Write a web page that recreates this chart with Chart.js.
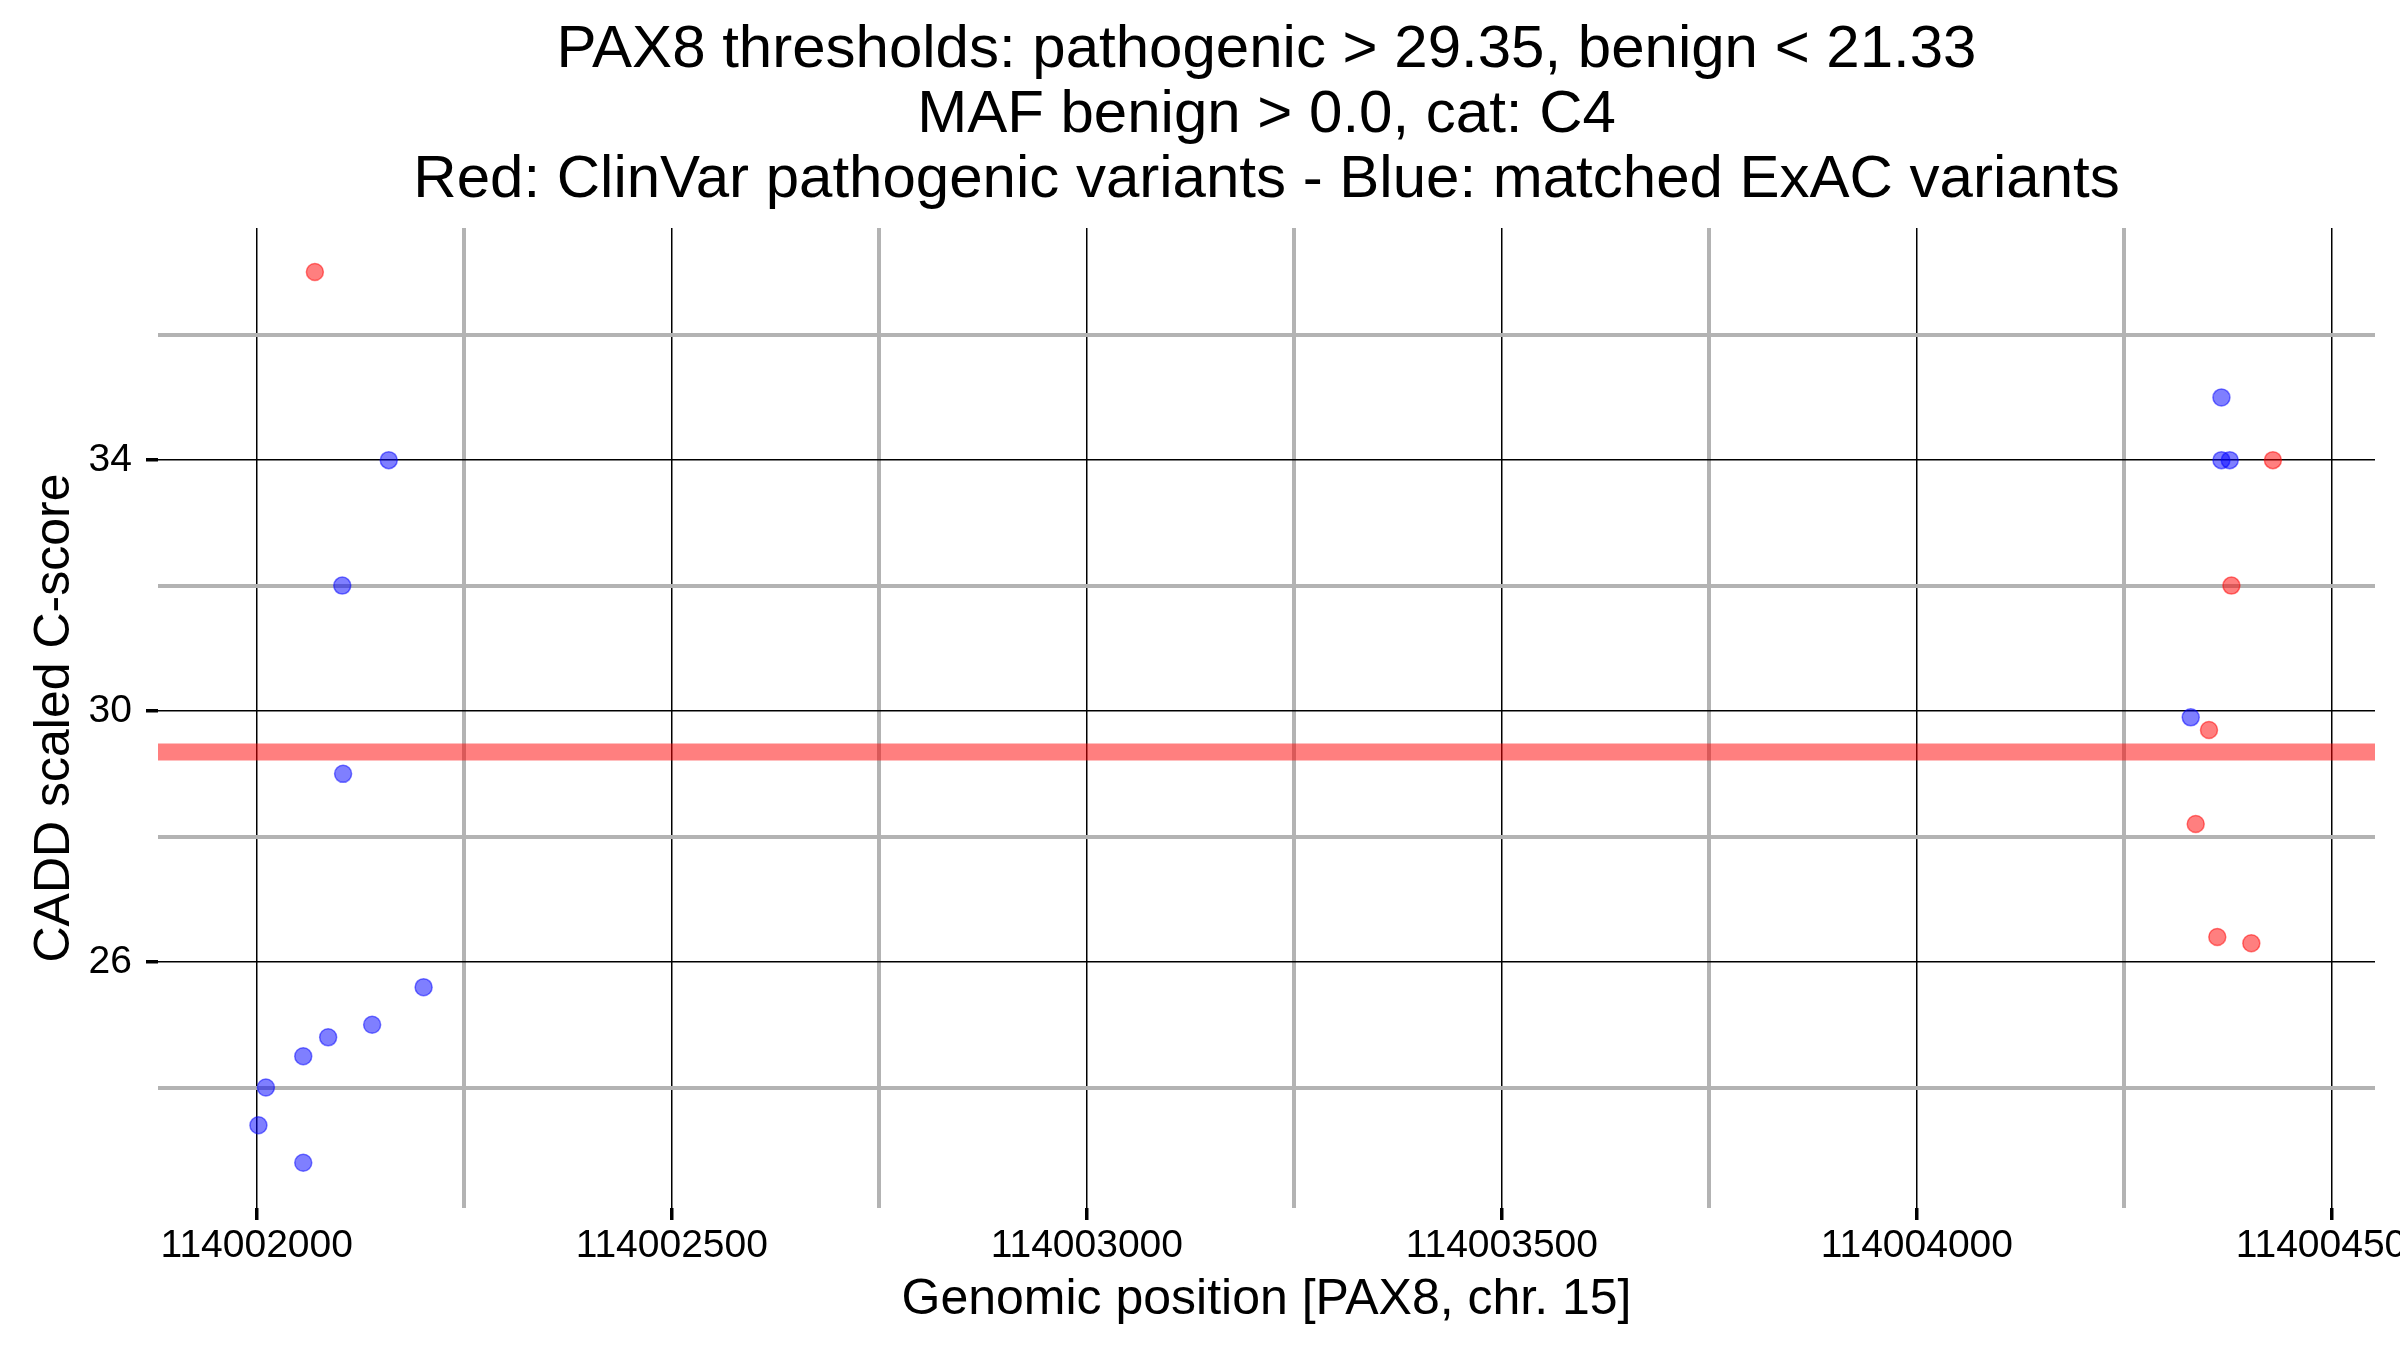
<!DOCTYPE html>
<html>
<head>
<meta charset="utf-8">
<script src="https://cdn.jsdelivr.net/npm/chart.js@4.4.1/dist/chart.umd.min.js"></script>
<style>
  html, body { margin: 0; padding: 0; overflow: hidden; background: #fff; }
  #wrap { position: absolute; left: 0; top: 0; width: 2440px; height: 1350px; }
</style>
</head>
<body>
<div id="wrap"><canvas id="chart"></canvas></div>
<script>
/**********************************
  DATA
**********************************/
// ClinVar pathogenic variants (red)
const clinvarPos   = [114002070, 114004429, 114004379, 114004352, 114004336, 114004362, 114004403];
const clinvarScore = [37.0,      34.0,      32.0,      29.7,      28.2,      26.4,      26.3];

// matched ExAC variants (blue)
const exacPos   = [114002159, 114002103, 114002104, 114002201, 114002139, 114002086, 114002056,
                   114002011, 114002002, 114002056, 114004367, 114004367, 114004377, 114004330];
const exacScore = [34.0, 32.0, 29.0, 25.6, 25.0, 24.8, 24.5,
                   24.0, 23.4, 22.8, 35.0, 34.0, 34.0, 29.9];

const pathogenicThreshold = 29.35;

// axis ranges and ticks
const xMin = 114001881, xMax = 114004552;
const yMin = 22.08,     yMax = 37.7;
const xTickValues = [114002000, 114002250, 114002500, 114002750, 114003000,
                     114003250, 114003500, 114003750, 114004000, 114004250, 114004500];
const xTickLabels = ['114002000', '114002500', '114003000', '114003500', '114004000', '114004500'];
const yTickValues = [24, 26, 28, 30, 32, 34, 36];
const yTickLabels = ['26', '30', '34'];

const titleLines = [
  'PAX8 thresholds: pathogenic > 29.35, benign < 21.33',
  'MAF benign > 0.0, cat: C4',
  'Red: ClinVar pathogenic variants - Blue: matched ExAC variants'
];

/**********************************
  HELPERS
**********************************/
const FONT = '"Liberation Sans", Arial, Helvetica, sans-serif';
const MINOR_GREY = '#b3b3b3';

function toPoints(xs, ys) {
  return xs.map((x, i) => ({ x: x, y: ys[i] }));
}
function isMajorLabel(labels, v) {
  return labels.indexOf(String(v)) !== -1;
}
function gridFor(labels) {
  return {
    color: ctx => isMajorLabel(labels, ctx.tick.value) ? '#000000' : MINOR_GREY,
    lineWidth: ctx => isMajorLabel(labels, ctx.tick.value) ? 1.5 : 4,
    tickColor: ctx => isMajorLabel(labels, ctx.tick.value) ? '#000000' : 'rgba(0,0,0,0)',
    tickWidth: 3.5,
    tickLength: 12,
    drawTicks: true
  };
}

// title centred over the plot panel (ggplot style), not over the whole canvas
const panelTitle = {
  id: 'panelTitle',
  afterDraw(chart) {
    const { ctx, chartArea } = chart;
    const cx = (chartArea.left + chartArea.right) / 2;
    ctx.save();
    ctx.fillStyle = '#000';
    ctx.font = '60px ' + FONT;
    ctx.textAlign = 'center';
    ctx.textBaseline = 'alphabetic';
    titleLines.forEach((line, i) => {
      ctx.fillText(line, cx, chartArea.top - 161 + i * 65);
    });
    ctx.restore();
  }
};

/**********************************
  CHART
**********************************/
const ctx = document.getElementById('chart').getContext('2d');
new Chart(ctx, {
  type: 'scatter',
  data: {
    datasets: [
      {
        label: 'threshold',
        type: 'line',
        data: [{ x: xMin, y: pathogenicThreshold }, { x: xMax, y: pathogenicThreshold }],
        borderColor: 'rgba(255,0,0,0.5)',
        borderWidth: 17,
        pointRadius: 0,
        order: 3
      },
      {
        label: 'ExAC',
        data: toPoints(exacPos, exacScore),
        backgroundColor: 'rgba(0,0,255,0.5)',
        borderColor: 'rgba(0,0,255,0.5)',
        borderWidth: 1.5,
        pointRadius: 8.5,
        order: 2
      },
      {
        label: 'ClinVar',
        data: toPoints(clinvarPos, clinvarScore),
        backgroundColor: 'rgba(255,0,0,0.5)',
        borderColor: 'rgba(255,0,0,0.5)',
        borderWidth: 1.5,
        pointRadius: 8.5,
        order: 1
      }
    ]
  },
  options: {
    responsive: true,
    maintainAspectRatio: false,
    animation: false,
    layout: { padding: { left: 0, right: 65, top: 228, bottom: 20 } },
    plugins: {
      legend: { display: false },
      tooltip: { enabled: false },
      title: { display: false }
    },
    scales: {
      x: {
        type: 'linear',
        min: xMin,
        max: xMax,
        afterBuildTicks: axis => { axis.ticks = xTickValues.map(v => ({ value: v })); },
        afterFit: axis => { axis.height = 122; },
        ticks: {
          autoSkip: false,
          maxRotation: 0,
          minRotation: 0,
          padding: 3,
          color: '#000',
          font: { family: FONT, size: 39 },
          callback: v => isMajorLabel(xTickLabels, v) ? String(v) : ''
        },
        grid: gridFor(xTickLabels),
        border: { display: false },
        title: {
          display: true,
          text: 'Genomic position [PAX8, chr. 15]',
          color: '#000',
          font: { family: FONT, size: 50 },
          padding: { top: 1, bottom: 0 }
        }
      },
      y: {
        type: 'linear',
        min: yMin,
        max: yMax,
        afterBuildTicks: axis => { axis.ticks = yTickValues.map(v => ({ value: v })); },
        afterFit: axis => { axis.width = 158; },
        ticks: {
          autoSkip: false,
          padding: 14,
          color: '#000',
          font: { family: FONT, size: 39 },
          callback: v => isMajorLabel(yTickLabels, v) ? String(v) : ''
        },
        grid: gridFor(yTickLabels),
        border: { display: false },
        title: {
          display: true,
          text: 'CADD scaled C-score',
          color: '#000',
          font: { family: FONT, size: 50 },
          padding: { top: 25, bottom: 0 }
        }
      }
    }
  },
  plugins: [panelTitle]
});
</script>
</body>
</html>
